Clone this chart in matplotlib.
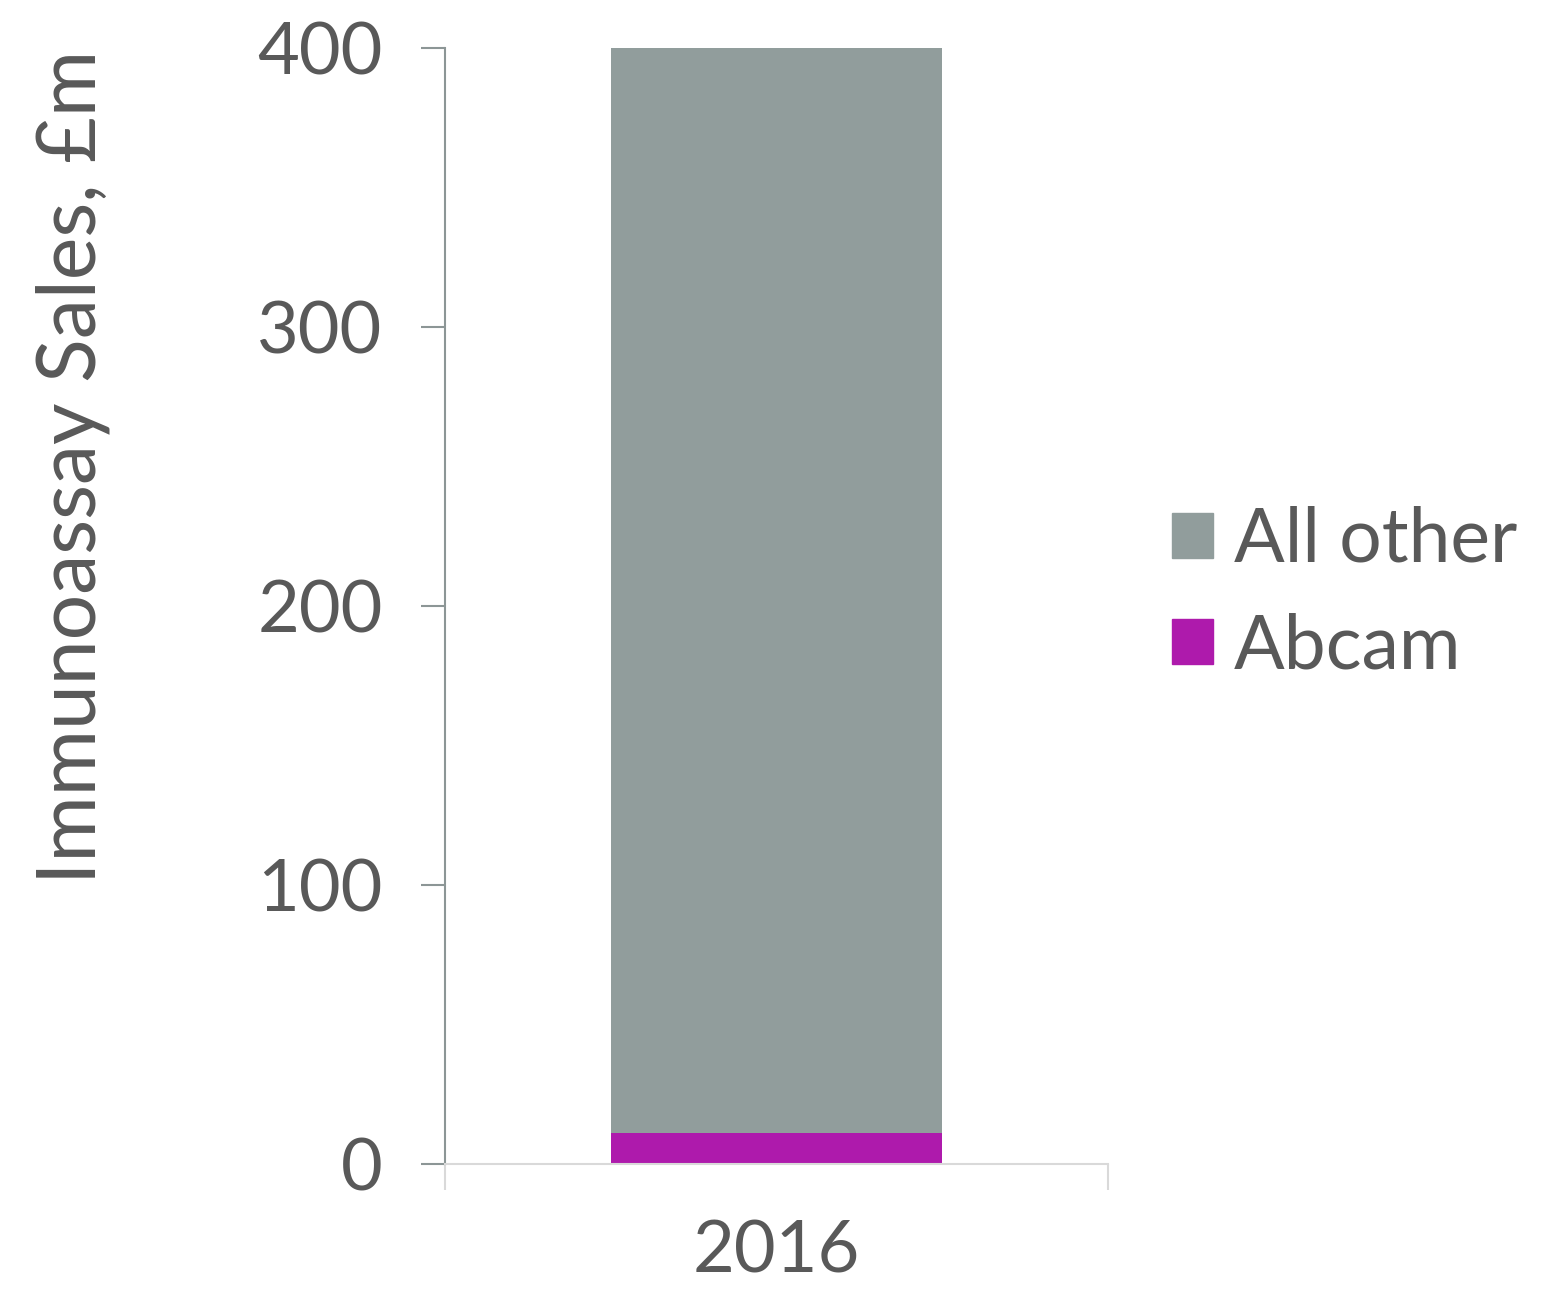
import matplotlib.pyplot as plt
import matplotlib.patches as mpatches

years = ['2016']
abcam = [11]
all_other = [389]

text_color = '#595959'
gray = '#919D9C'
magenta = '#AE1AAC'

plt.rcParams['font.family'] = ['Lato', 'DejaVu Sans']

fig = plt.figure(figsize=(15.42, 12.9), dpi=100)
ax = fig.add_axes([0.2886, 0.0977, 0.43, 0.8651])

x = list(range(len(years)))
ax.bar(x, abcam, width=0.5, color=magenta, label='Abcam')
ax.bar(x, all_other, width=0.5, bottom=abcam, color=gray, label='All other')

ax.set_xlim(-0.5, 0.5)
ax.set_ylim(0, 400)
ax.set_yticks([0, 100, 200, 300, 400])
ax.set_xticks(x)
ax.set_xticklabels(years)
ax.set_xticks([-0.5, 0.5], minor=True)

for s in ['top', 'right']:
    ax.spines[s].set_visible(False)
ax.spines['left'].set_color('#8C9696')
ax.spines['left'].set_linewidth(1.5)
ax.spines['bottom'].set_color('#D9D9D9')
ax.spines['bottom'].set_linewidth(1.5)

ax.tick_params(axis='y', length=17, width=1.5, color='#8C9696', labelsize=52,
               labelcolor=text_color, pad=28)
ax.tick_params(axis='x', which='major', length=0, labelsize=52,
               labelcolor=text_color, pad=40)
ax.tick_params(axis='x', which='minor', length=19, width=1.5, color='#D9D9D9')

ax.set_ylabel('Immunoassay Sales, £m', fontsize=58, color=text_color)
ax.yaxis.set_label_coords(-0.505, 0.625)

handles = [mpatches.Patch(color=gray, label='All other'),
           mpatches.Patch(color=magenta, label='Abcam')]
fig.legend(handles=handles, loc='center left', bbox_to_anchor=(0.716, 0.54),
           frameon=False, fontsize=54, labelcolor=text_color,
           handlelength=0.55, handleheight=0.55, handletextpad=0.28,
           labelspacing=0.5)

fig.savefig('out.png', dpi=100)
